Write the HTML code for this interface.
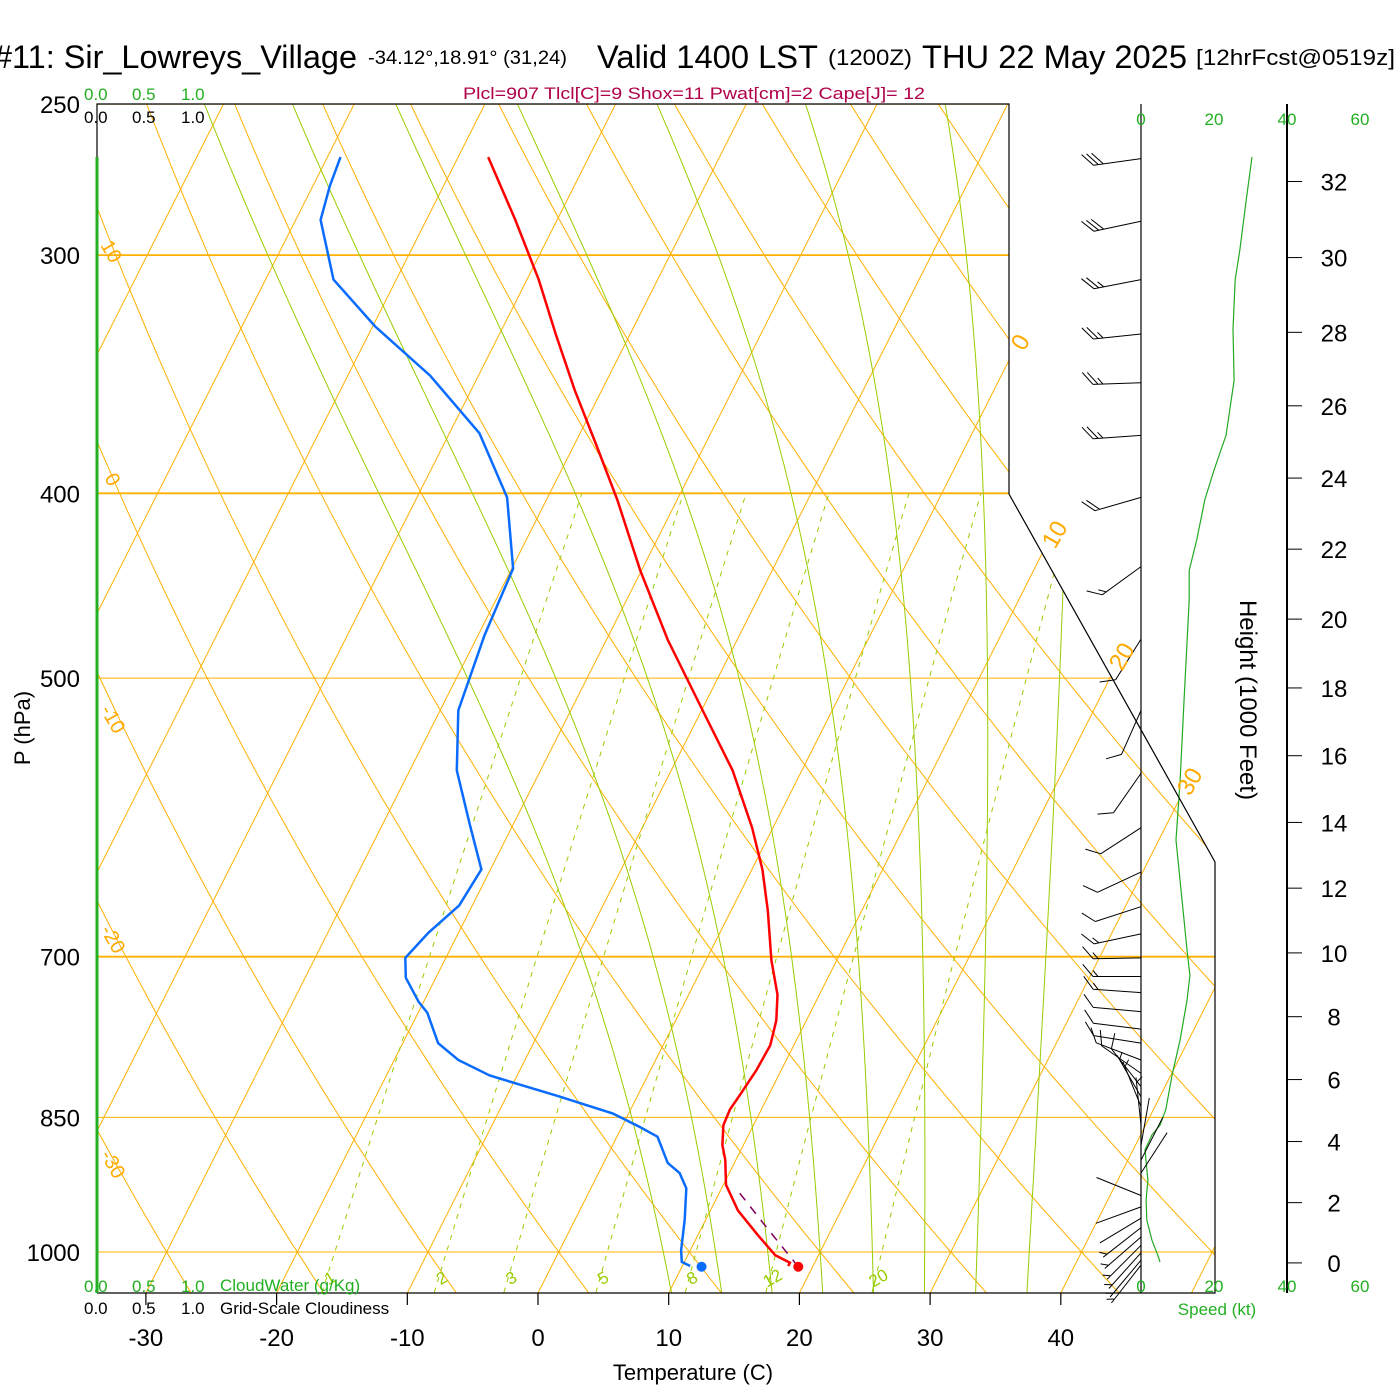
<!DOCTYPE html>
<html><head><meta charset="utf-8"><title>Skew-T Sir_Lowreys_Village</title>
<style>
html,body{margin:0;padding:0;background:#fff;}
svg{display:block;font-family:"Liberation Sans",Arial,sans-serif;}
</style></head>
<body>
<svg id="chart" width="1400" height="1400" viewBox="0 0 1400 1400" xmlns="http://www.w3.org/2000/svg">
<defs>
<clipPath id="plotclip"><polygon points="97,104 1009,104 1009,494 1215,862 1215,1293 97,1293"/></clipPath>
</defs>
<rect width="1400" height="1400" fill="#fff"/>
<g id="bg" clip-path="url(#plotclip)"></g>
<g id="marks"></g>
<g id="frame">
<polyline points="97,1293 97,104 1009,104 1009,494 1215,862 1215,1293 97,1293" fill="none" stroke="#000" stroke-width="1.2"/>
<line x1="97" y1="157" x2="97" y2="1293" stroke="#22b022" stroke-width="3"/>
<line x1="1141" y1="104" x2="1141" y2="1293" stroke="#000" stroke-width="1.2"/>
<line x1="1287" y1="104" x2="1287" y2="1293" stroke="#000" stroke-width="2"/>
</g>
<g id="axes"></g>
<g id="texts">
<text x="-6" y="68" font-size="32" textLength="363" lengthAdjust="spacingAndGlyphs">#11: Sir_Lowreys_Village</text>
<text x="368" y="64" font-size="19" textLength="199" lengthAdjust="spacingAndGlyphs">-34.12°,18.91° (31,24)</text>
<text x="597" y="68" font-size="32" textLength="221" lengthAdjust="spacingAndGlyphs">Valid 1400 LST</text>
<text x="828" y="65" font-size="22" textLength="84" lengthAdjust="spacingAndGlyphs">(1200Z)</text>
<text x="922" y="68" font-size="32" textLength="265" lengthAdjust="spacingAndGlyphs">THU 22 May 2025</text>
<text x="1196" y="65" font-size="22" textLength="199" lengthAdjust="spacingAndGlyphs">[12hrFcst@0519z]</text>
<text x="463" y="99" font-size="17" fill="#b0004a" textLength="462" lengthAdjust="spacingAndGlyphs">Plcl=907 Tlcl[C]=9 Shox=11 Pwat[cm]=2 Cape[J]= 12</text>
<g font-size="17" fill="#22b022">
<text x="84" y="100">0.0</text><text x="132" y="100">0.5</text><text x="181" y="100">1.0</text></g>
<g font-size="17" fill="#000">
<text x="84" y="123">0.0</text><text x="132" y="123">0.5</text><text x="181" y="123">1.0</text></g>
<g font-size="17" fill="#22b022">
<text x="84" y="1292">0.0</text><text x="132" y="1292">0.5</text><text x="181" y="1292">1.0</text><text x="220" y="1291">CloudWater (g/Kg)</text></g>
<g font-size="17" fill="#000">
<text x="84" y="1314">0.0</text><text x="132" y="1314">0.5</text><text x="181" y="1314">1.0</text><text x="220" y="1314">Grid-Scale Cloudiness</text></g>
<text x="1217" y="1315" font-size="17" fill="#22b022" text-anchor="middle">Speed (kt)</text>
<text x="693" y="1380" font-size="22" text-anchor="middle">Temperature (C)</text>
<text transform="translate(30,728) rotate(-90)" font-size="22" text-anchor="middle">P (hPa)</text>
<text transform="translate(1240,700) rotate(90)" font-size="24" text-anchor="middle">Height (1000 Feet)</text>
<g font-size="20" fill="#ffaa00">
<text transform="translate(100,245) rotate(60)">10</text>
<text transform="translate(104,478) rotate(60)">0</text>
<text transform="translate(100,710) rotate(60)">-10</text>
<text transform="translate(100,930) rotate(60)">-20</text>
<text transform="translate(100,1155) rotate(60)">-30</text>
</g>
<g font-size="24" fill="#ffaa00">
<text transform="translate(1024,352) rotate(-60)">0</text>
<text transform="translate(1055,550) rotate(-60)">10</text>
<text transform="translate(1122,672) rotate(-60)">20</text>
<text transform="translate(1190,797) rotate(-60)">30</text>
</g>
</g>
</svg>
<script>
// ---------- data ----------
const pressureTicks = [250, 300, 400, 500, 700, 850, 1000];
const tempTicks = [-30, -20, -10, 0, 10, 20, 30, 40];
const heightTicks = [0,2,4,6,8,10,12,14,16,18,20,22,24,26,28,30,32];
const speedTicks = [0, 20, 40, 60];
const mixRatios = [1, 2, 3, 5, 8, 12, 20];
const moistStart = [8,12,16,20,24,28,32,36];
const tempP = [266.5,287.5,309,330,353,378,403,439,477.5,520,559,599,630,662,703,733,756,779,803,827,842,858,879,895,922,951,980,1004,1013,1017];
const tempT = [-47.7,-43.2,-39.1,-35.7,-32.1,-28.2,-24.6,-20.1,-15.3,-9.9,-5.3,-1.6,0.8,2.8,5.0,6.8,7.7,8.2,8.1,7.8,7.6,7.7,8.4,9.2,10.2,12.1,14.6,16.7,18.1,18.1];
const dewP = [266.5,276,287.5,309,327,347,372,402,438,475,520,559,597,630,658,680,701,718,739,749,777,793,808,829,846,860,870,898,909,926,962,998,1012,1017];
const dewT = [-59.0,-58.7,-58.1,-54.8,-49.8,-43.7,-37.7,-33.1,-29.9,-29.5,-28.6,-26.4,-23.3,-20.7,-21.0,-22.3,-23.1,-22.3,-20.4,-19.3,-17.3,-15.1,-12.1,-5.9,-1.2,1.4,3.1,4.9,6.2,7.3,8.4,9.3,9.8,10.6];
const sfcP = 1018;
const sfcT = 18.9;
const sfcTd = 11.5;
const parcelTopP = 930;
const spdP = [266.5,281,298,309,328,349,373,389,403,423,439,455,513,566,608,694,716,738,774,808,842,858,868,884,917,939,962,986,1004,1012];
const spdKt = [30.4,28.8,27.1,25.8,25.2,25.5,23.3,20,17.5,15.3,13.2,13.2,11.8,10.7,9.6,12.6,13.4,12.6,10.7,8.5,6.8,5.2,3,1.1,1.9,1.4,1.6,3,4.6,5.2];
const barbP = [267,288,309,330,350,373,402,437,477,520,561,599,632,659,681,701,717,731,748,764,777,793,806,819,829,839,858,879,895,909,934,947,960,971,982,992,1001,1010,1016];
const barbDir = [262,258,259,264,268,266,254,234,212,204,215,237,245,252,258,269,270,274,275,277,279,291,305,322,330,338,354,10,27,33,292,250,239,232,229,225,222,220,218];
const barbSpd = [30,30,25,25,25,25,20,15,10,10,10,10,10,10,15,15,15,15,10,10,10,10,10,10,5,5,5,0,0,0,0,0,0,5,5,5,5,5,5];

// ---------- axis functions ----------
const NS = 'http://www.w3.org/2000/svg';
function yP(p){ return 1252 - 828*Math.log(1000/p); }
function xT(T,p){ return 538 + 13.07*T + (1293 - yP(p))*0.505; }
function xSpd(s){ return 1141 + s*3.65; }
function pOfFt(h){ return 1013.25*Math.pow(1-6.8756e-6*h, 5.2559); }
function el(tag, attrs, parent){
  const e = document.createElementNS(NS, tag);
  for (const k in attrs) e.setAttribute(k, attrs[k]);
  parent.appendChild(e); return e;
}
function pathFrom(pts){ return pts.map((q,i)=>(i?'L':'M')+q[0].toFixed(1)+','+q[1].toFixed(1)).join(''); }
function esat(T){ return 6.112*Math.exp(17.67*T/(T+243.5)); }
function tOfMix(w,p){ const e = w*p/(622+w); const l = Math.log(e/6.112); return 243.5*l/(17.67-l); }

const bg = document.getElementById('bg');
const marks = document.getElementById('marks');
const axes = document.getElementById('axes');

// isobars
pressureTicks.forEach(p=>{
  const ln = el('line',{x1:97,y1:yP(p),x2:1400,y2:yP(p),stroke:'#ffb000','stroke-width':(p==300||p==400||p==700)?1.8:1},bg);
  
  
});
// isotherms
for (let T=-120; T<=50; T+=10){
  const ln = el('line',{x1:xT(T,1060),y1:yP(1060),x2:xT(T,240),y2:yP(240),stroke:'#ffb000','stroke-width':1},bg);
  
  
}
// dry adiabats
for (let th=-40; th<=200; th+=10){
  const pts=[];
  for (let p=1060; p>=240; p-=10){ const T=(th+273.15)*Math.pow(p/1000,0.2857)-273.15; pts.push([xT(T,p),yP(p)]); }
  const pa = el('path',{d:pathFrom(pts),fill:'none',stroke:'#ffb000','stroke-width':1},bg);
  
  
}
// moist adiabats
function dTdp(T,p){
  const Tk=T+273.15, es=esat(T), rs=0.622*es/(p-es);
  const Rd=287.04, cp=1005.7, Lv=2.501e6;
  return (Rd*Tk + Lv*rs)/(p*(cp + Lv*Lv*rs*0.622/(Rd*Tk*Tk)));
}
moistStart.forEach(T0=>{
  const up=[], dn=[];
  let T=T0;
  for (let p=1000; p>=250; p-=2){ up.push([xT(T,p),yP(p)]); T -= dTdp(T,p)*2; }
  T=T0;
  for (let p=1000; p<=1060; p+=2){ dn.push([xT(T,p),yP(p)]); T += dTdp(T,p)*2; }
  const pts = dn.reverse().concat(up);
  const pa = el('path',{d:pathFrom(pts),fill:'none',stroke:'#99cc00','stroke-width':1},bg);
  
  
});
// mixing ratio lines
mixRatios.forEach(w=>{
  const pts=[];
  for (let p=1050; p>=400; p-=10) pts.push([xT(tOfMix(w,p),p),yP(p)]);
  const pa = el('path',{d:pathFrom(pts),fill:'none',stroke:'#99cc00','stroke-width':1,'stroke-dasharray':'5,6'},bg);
  
  
  const t = el('text',{x:xT(tOfMix(w,1028),1028)+2,y:yP(1028)+9,'font-size':17,fill:'#99cc00','text-anchor':'middle',transform:`rotate(-30 ${xT(tOfMix(w,1028),1028)+2} ${yP(1028)+3})`},bg);
  t.textContent = String(w);
  
  
});

// temperature & dewpoint
const tLine = el('path',{d:pathFrom(tempP.map((p,i)=>[xT(tempT[i],p),yP(p)])),fill:'none',stroke:'#ff0000','stroke-width':2.5},marks);


const dLine = el('path',{d:pathFrom(dewP.map((p,i)=>[xT(dewT[i],p),yP(p)])),fill:'none',stroke:'#0a6cff','stroke-width':2.5},marks);


// parcel
(function(){
  const th=(sfcT+273.15)*Math.pow(1000/sfcP,0.2857); const pts=[];
  for (let p=sfcP; p>=parcelTopP; p-=4){ pts.push([xT(th*Math.pow(p/1000,0.2857)-273.15,p),yP(p)]); }
  const pa = el('path',{d:pathFrom(pts),fill:'none',stroke:'#800060','stroke-width':1.5,'stroke-dasharray':'9,8'},marks);
  
  
})();
const sd = el('circle',{cx:xT(sfcT,sfcP),cy:yP(sfcP),r:5,fill:'#ff0000'},marks);


const sdd = el('circle',{cx:xT(sfcTd,sfcP),cy:yP(sfcP),r:5,fill:'#0a6cff'},marks);



// speed profile
const sLine = el('path',{d:pathFrom(spdP.map((p,i)=>[xSpd(spdKt[i]),yP(p)])),fill:'none',stroke:'#22aa22','stroke-width':1.2},marks);



// wind barbs
barbP.forEach((p,i)=>{
  const d = barbDir[i]*Math.PI/180, L=48;
  const ux=Math.sin(d), uy=-Math.cos(d);
  const x0=1141, y0=yP(p), x1=x0+ux*L, y1=y0+uy*L;
  let s='M'+x0+','+y0.toFixed(1)+'L'+x1.toFixed(1)+','+y1.toFixed(1);
  const a=Math.atan2(uy,ux)+50*Math.PI/180, fx=Math.cos(a), fy=Math.sin(a);
  let spd=barbSpd[i], k=0;
  while (spd>=10){ const bx=x1-ux*k*5, by=y1-uy*k*5; s+='M'+bx.toFixed(1)+','+by.toFixed(1)+'L'+(bx+fx*16).toFixed(1)+','+(by+fy*16).toFixed(1); spd-=10; k++; }
  if (spd>=5){ if(k==0)k=1; const bx=x1-ux*k*5, by=y1-uy*k*5; s+='M'+bx.toFixed(1)+','+by.toFixed(1)+'L'+(bx+fx*8).toFixed(1)+','+(by+fy*8).toFixed(1); }
  const pa = el('path',{d:s,fill:'none',stroke:'#000','stroke-width':1},marks);
  
  
});

// axes labels
pressureTicks.forEach(p=>{
  const t = el('text',{x:80,y:yP(p)+9,'font-size':24,'text-anchor':'end'},axes);
  t.textContent=String(p);
  
  
});
tempTicks.forEach(T=>{
  const x=538+13.07*T;
  const tk = el('line',{x1:x,y1:1293,x2:x,y2:1305,stroke:'#000','stroke-width':1.2},axes);
  
  
  const t = el('text',{x:x,y:1346,'font-size':24,'text-anchor':'middle'},axes);
  t.textContent=String(T);
  
  
});
heightTicks.forEach(h=>{
  const y=yP(pOfFt(h*1000));
  const tk = el('line',{x1:1287,y1:y,x2:1302,y2:y,stroke:'#000','stroke-width':1},axes);
  
  
  const t = el('text',{x:1334,y:y+9,'font-size':24,'text-anchor':'middle'},axes);
  t.textContent=String(h);
  
  
});
speedTicks.forEach(s=>{
  [125,1292].forEach(yy=>{
    const t = el('text',{x:xSpd(s),y:yy,'font-size':17,fill:'#22b022','text-anchor':'middle'},axes);
    t.textContent=String(s);
    
    
  });
});
</script>
</body></html>
